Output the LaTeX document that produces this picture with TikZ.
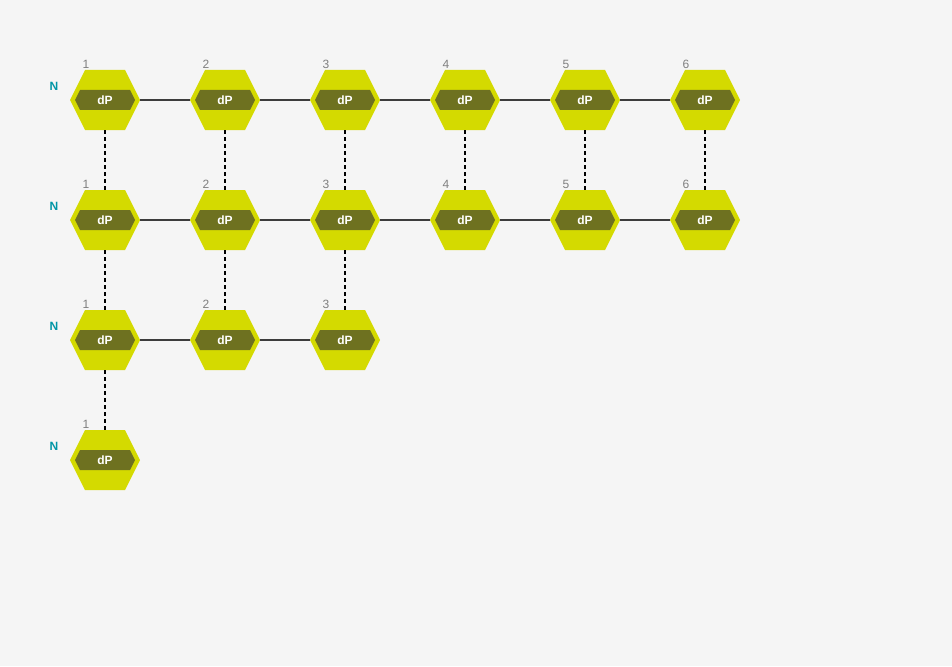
\documentclass[tikz,border=0pt]{standalone}
\usepackage{fontspec}
\setmainfont{Liberation Sans}
\definecolor{bg}{HTML}{F5F5F5}
\definecolor{hexc}{HTML}{D4DA00}
\definecolor{innerc}{HTML}{6E7120}
\definecolor{ncol}{HTML}{0096A6}
\definecolor{numcol}{HTML}{7F7F7F}
\definecolor{edgec}{HTML}{3C3C3C}
\begin{document}
\begin{tikzpicture}[x=1pt,y=-1pt,
  hexnode/.style={shape=rectangle, minimum width=70pt, minimum height=60pt, inner sep=0pt,
    text=white, font=\fontsize{12}{14}\selectfont\bfseries},
  hexfill/.style={fill=hexc},
  innerfill/.style={fill=innerc},
  numlabel/.style={text=numcol, font=\fontsize{12}{14}\selectfont, inner sep=0pt},
  nlabel/.style={text=ncol, font=\fontsize{12}{14}\selectfont\bfseries, inner sep=0pt},
  solidedge/.style={draw=edgec, line width=1.8pt},
  dashededge/.style={draw=black, line width=1.5pt, dash pattern=on 4pt off 3pt}
]
\fill[bg] (0,0) rectangle (952,666);
\useasboundingbox (0,0) rectangle (952,666);

\foreach \r/\n in {1/6,2/6,3/3,4/1}{
  \pgfmathsetmacro{\yy}{100+120*(\r-1)}
  \node[nlabel] (N\r) at (54,\yy-14) {N};
  \foreach \c in {1,...,\n}{
    \pgfmathsetmacro{\xx}{105+120*(\c-1)}
    \begin{scope}[shift={(\xx,\yy)}]
      \path[hexfill] (-35,0)--(-20,30)--(20,30)--(35,0)--(20,-30)--(-20,-30)--cycle;
      \path[innerfill] (-30,0)--(-25,10)--(25,10)--(30,0)--(25,-10)--(-25,-10)--cycle;
    \end{scope}
    \node[hexnode] (h\r\c) at (\xx,\yy) {\raisebox{-1pt}{dP}};
    \node[numlabel] (t\r\c) at (\xx-19,\yy-36) {\c};
  }
}

% horizontal connectors
\foreach \r/\n in {1/6,2/6,3/3}{
  \foreach \c [evaluate=\c as \d using int(\c+1)] in {1,...,\n}{
    \ifnum\c<\n
      \draw[solidedge] (h\r\c.east) -- (h\r\d.west);
    \fi
  }
}
% vertical connectors
\foreach \c in {1,...,6}{ \draw[dashededge] (h1\c.south) -- (h2\c.north); }
\foreach \c in {1,...,3}{ \draw[dashededge] (h2\c.south) -- (h3\c.north); }
\draw[dashededge] (h31.south) -- (h41.north);
\end{tikzpicture}
\end{document}
